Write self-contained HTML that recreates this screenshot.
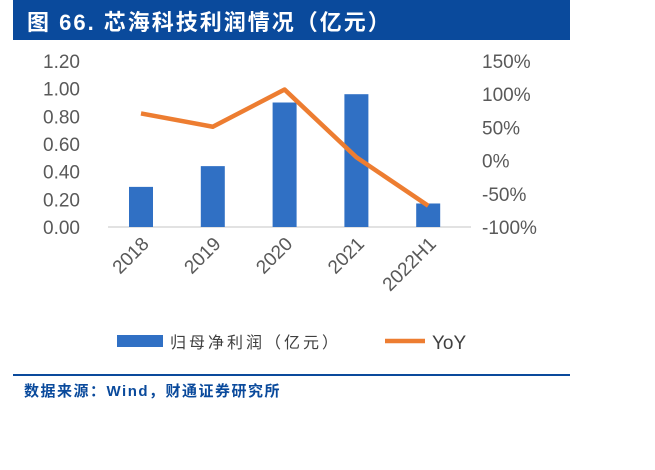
<!DOCTYPE html>
<html><head><meta charset="utf-8"><style>
body{margin:0;width:655px;height:470px;background:#fff;overflow:hidden;font-family:"Liberation Sans","Noto Sans CJK SC",sans-serif}
</style></head><body>
<div style="position:absolute;left:13px;top:0;width:557px;height:40px;background:#0a4a9c"></div>
<div style="position:absolute;left:27px;top:5px;color:#fff;font-size:22px;letter-spacing:2px;font-weight:bold;font-family:'Liberation Sans','Noto Sans CJK SC',sans-serif">图 66. 芯海科技利润情况（亿元）</div>
<svg id="chart" width="655" height="470" style="position:absolute;left:0;top:0"></svg>
<div style="position:absolute;left:13px;top:374px;width:557px;height:2px;background:#0a4a9c"></div>
<div style="position:absolute;left:24px;top:380px;color:#0a4a9c;font-size:15px;letter-spacing:1.5px;font-weight:bold">数据来源：Wind，财通证券研究所</div>
<script>
const categories=["2018","2019","2020","2021","2022H1"];
const profit=[0.29,0.44,0.90,0.96,0.17];
const yoy=[71,51,107,5,-68];
const leftTicks=["0.00","0.20","0.40","0.60","0.80","1.00","1.20"];
const rightTicks=["-100%","-50%","0%","50%","100%","150%"];
const NS="http://www.w3.org/2000/svg";
const svg=document.getElementById('chart');
const y0=227,y1=61;
const yL=v=>y0-(v/1.2)*(y0-y1);
const yR=v=>y0-((v+100)/250)*(y0-y1);
const xC=i=>141+i*71.8;
function mk(t,a){const e=document.createElementNS(NS,t);for(const k in a)e.setAttribute(k,a[k]);svg.appendChild(e);return e;}
let ax=mk('line',{x1:108,x2:471,y1:y0,y2:y0,stroke:'#d9d9d9','stroke-width':1.5});


leftTicks.forEach((t,i)=>{const e=mk('text',{x:80,y:yL(i*0.2)+7,'text-anchor':'end','font-size':19,fill:'#595959'});e.textContent=t;

});
rightTicks.forEach((t,i)=>{const e=mk('text',{x:482,y:yR(-100+i*50)+7,'font-size':19,fill:'#595959'});e.textContent=t;

});
profit.forEach((v,i)=>{const r=mk('rect',{x:xC(i)-12,y:yL(v),width:24,height:y0-yL(v),fill:'#3070c4'});

});
const l=mk('polyline',{points:yoy.map((v,i)=>xC(i)+','+yR(v)).join(' '),fill:'none',stroke:'#ed7d31','stroke-width':4.5,'stroke-linejoin':'round'});


categories.forEach((c,i)=>{const x=xC(i)+9,y=245;const e=mk('text',{x:x,y:y,'text-anchor':'end','font-size':19,fill:'#595959',transform:`rotate(-45 ${x} ${y})`});e.textContent=c;

});
let s=mk('rect',{x:117,y:335,width:46,height:12,fill:'#3070c4'});


let t1=mk('text',{x:170,y:348,'font-size':16,'letter-spacing':3,fill:'#404040'});t1.textContent='归母净利润（亿元）';


let s2=mk('line',{x1:385,x2:425,y1:341,y2:341,stroke:'#ed7d31','stroke-width':4.5});


let t2=mk('text',{x:432,y:349,'font-size':19,fill:'#404040'});t2.textContent='YoY';


</script>
</body></html>
